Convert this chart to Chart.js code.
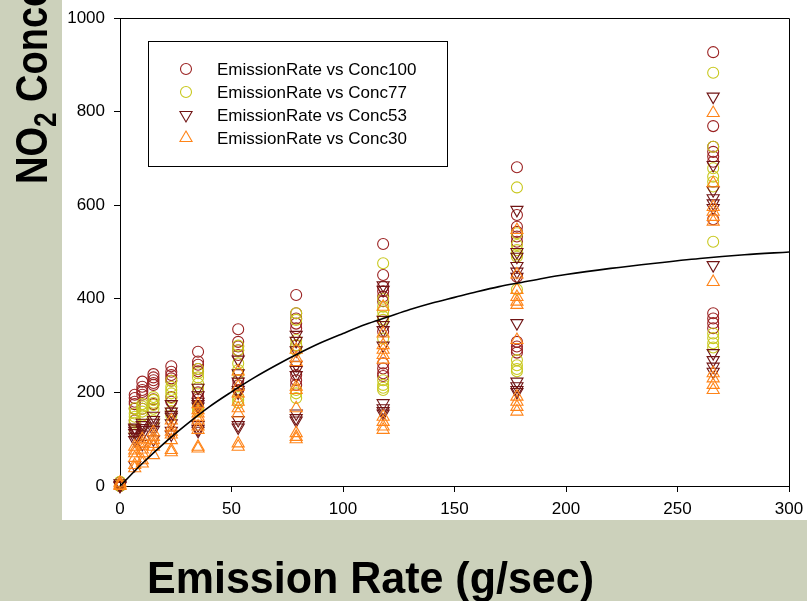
<!DOCTYPE html>
<html>
<head>
<meta charset="utf-8">
<script src="https://cdn.jsdelivr.net/npm/chart.js@4.4.1/dist/chart.umd.min.js"></script>
<style>
html, body { margin: 0; padding: 0; background: #ccd1bb; }
#wrap { position: relative; width: 807px; height: 601px; }
</style>
</head>
<body>
<div id="wrap"><canvas id="myChart" width="807" height="601"></canvas></div>
<script>
// x 값 (배출량, g/sec)
var emissionRates = [0, 6.6, 10, 15, 23, 35, 53, 79, 118, 178, 266];

// 각 배출량별 농도값
var conc100 = [
    [0, 3, 8],
    [195, 188, 180, 175, 165, 140],
    [223, 212, 205, 201, 195, 165],
    [239, 232, 226, 220, 216, 185, 175],
    [256, 244, 237, 230, 225, 190, 180],
    [287, 266, 259, 250, 245, 200, 190, 185],
    [335, 308, 298, 290, 280, 226, 215, 205],
    [408, 369, 358, 347, 337, 300, 237, 226, 216],
    [517, 451, 426, 416, 405, 395, 330, 262, 251, 241, 235],
    [681, 579, 554, 543, 533, 522, 447, 308, 298, 291, 285],
    [927, 769, 725, 714, 704, 693, 570, 369, 358, 348, 337]
];
var conc77 = [
    [0, 4, 9],
    [166, 155, 148, 141, 135, 115],
    [175, 170, 165, 159, 150, 130],
    [190, 184, 178, 173, 165, 140],
    [225, 212, 205, 198, 188, 160, 150],
    [250, 241, 232, 219, 210, 170, 165, 160],
    [300, 290, 262, 248, 240, 190, 184, 178],
    [369, 355, 312, 301, 290, 205, 198, 188],
    [476, 400, 383, 373, 362, 355, 315, 226, 216, 210, 205],
    [638, 540, 515, 504, 495, 490, 420, 269, 258, 250, 245],
    [883, 725, 679, 661, 650, 640, 522, 326, 316, 305, 296]
];
var conc53 = [
    [0, 2, 6],
    [125, 123, 118, 113, 105, 98, 45],
    [135, 130, 124, 120, 110, 90],
    [150, 141, 135, 127, 120, 100],
    [175, 159, 152, 148, 134, 118, 110],
    [210, 194, 180, 175, 170, 130, 122, 118],
    [270, 241, 223, 205, 200, 141, 130, 125],
    [323, 310, 290, 259, 248, 237, 155, 145, 140],
    [429, 419, 355, 344, 333, 300, 177, 166, 160, 155],
    [590, 500, 490, 470, 458, 447, 348, 223, 213, 205, 201],
    [832, 686, 632, 615, 604, 594, 472, 284, 269, 255, 244]
];
var conc30 = [
    [0, 3, 7],
    [84, 76, 70, 60, 45, 38],
    [100, 91, 85, 78, 70, 55, 48],
    [115, 105, 98, 90, 84, 66],
    [140, 125, 116, 110, 98, 77, 72],
    [175, 162, 155, 148, 140, 127, 120, 84, 80],
    [245, 212, 198, 180, 166, 155, 91, 84],
    [291, 273, 265, 212, 205, 166, 113, 105, 100],
    [383, 326, 301, 291, 280, 270, 148, 137, 127, 120],
    [547, 452, 419, 404, 394, 387, 312, 191, 180, 169, 159],
    [797, 647, 596, 586, 575, 565, 436, 241, 230, 216, 205]
];

// 회귀곡선
var fitX = [0, 10, 20, 30, 40, 50, 60, 70, 80, 90, 100, 110, 120, 130, 140, 150, 160, 170, 180, 190, 200, 220, 240, 260, 280, 300];
var fitY = [0, 48, 92, 132, 169, 201, 231, 258, 283, 306, 326, 345, 361, 377, 391, 403, 415, 426, 435, 444, 452, 465, 476, 486, 494, 500];

var seriesLabels = ['EmissionRate vs Conc100', 'EmissionRate vs Conc77', 'EmissionRate vs Conc53', 'EmissionRate vs Conc30'];
var seriesColors = ['#9b2222', '#c8c81e', '#701414', '#ff8418'];
var seriesStyles = ['circle', 'circle', 'triangle', 'triangle'];
var seriesRotation = [0, 0, 180, 0];
var seriesRadius = [5.5, 5.5, 7, 7];

var FONT = '"Liberation Sans", Arial, sans-serif';

function toPoints(values) {
    var pts = [];
    values.forEach(function (col, i) {
        col.forEach(function (v) { pts.push({ x: emissionRates[i], y: v }); });
    });
    return pts;
}

function makeSet(i, values, order) {
    return {
        label: seriesLabels[i],
        data: toPoints(values),
        pointStyle: seriesStyles[i],
        pointRotation: seriesRotation[i],
        pointRadius: seriesRadius[i],
        pointBorderWidth: 1.1,
        borderColor: seriesColors[i],
        pointBorderColor: seriesColors[i],
        backgroundColor: 'rgba(0,0,0,0)',
        pointBackgroundColor: 'rgba(0,0,0,0)',
        showLine: false,
        clip: false,
        order: order
    };
}

// 배경, 테두리, 범례, 축 제목
var decoPlugin = {
    id: 'deco',
    beforeDraw: function (chart) {
        var c = chart.ctx;
        c.save();
        c.fillStyle = '#ffffff';
        c.fillRect(62, 0, 745, 520);
        c.restore();
    },
    afterDraw: function (chart) {
        var c = chart.ctx;
        var a = chart.chartArea;
        c.save();
        // 위, 오른쪽 테두리
        c.strokeStyle = '#000';
        c.lineWidth = 1;
        c.beginPath();
        c.moveTo(Math.round(a.left) + 0.5, Math.round(a.top) + 0.5);
        c.lineTo(Math.round(a.right) + 0.5, Math.round(a.top) + 0.5);
        c.lineTo(Math.round(a.right) + 0.5, Math.round(a.bottom) + 0.5);
        c.stroke();

        // 범례
        c.fillStyle = '#fff';
        c.fillRect(148, 41, 299, 125);
        c.strokeRect(148.5, 41.5, 299, 125);
        var rows = [69, 92, 115, 138];
        for (var i = 0; i < 4; i++) {
            c.strokeStyle = seriesColors[i];
            c.fillStyle = 'rgba(0,0,0,0)';
            c.lineWidth = 1.1;
            Chart.helpers.drawPoint(c, {
                pointStyle: seriesStyles[i],
                rotation: seriesRotation[i],
                radius: seriesRadius[i],
                borderWidth: 1.1
            }, 186, rows[i]);
            c.fillStyle = '#000';
            c.font = '17px ' + FONT;
            c.textAlign = 'left';
            c.textBaseline = 'middle';
            c.fillText(seriesLabels[i], 217, rows[i] + 1);
        }

        // x축 제목
        c.save();
        c.fillStyle = '#000';
        c.font = 'bold 45px ' + FONT;
        c.textAlign = 'left';
        c.textBaseline = 'alphabetic';
        var title = 'Emission Rate (g/sec)';
        var tw = c.measureText(title).width;
        c.translate(147, 593);
        c.scale(447 / tw, 1);
        c.fillText(title, 0, 0);
        c.restore();

        // y축 제목 (회전)
        c.fillStyle = '#000';
        c.translate(47, 184);
        c.rotate(-Math.PI / 2);
        c.scale(1, 1.18);
        c.textAlign = 'left';
        c.textBaseline = 'alphabetic';
        c.font = 'bold 38px ' + FONT;
        c.fillText('NO', 0, 0);
        var w1 = c.measureText('NO').width;
        c.font = 'bold 26px ' + FONT;
        c.fillText('2', w1, 8);
        var w2 = c.measureText('2').width;
        c.font = 'bold 38px ' + FONT;
        c.fillText(' Concentration', w1 + w2, 0);
        c.restore();
    }
};

var datasets = [
    {
        type: 'line',
        label: 'fit',
        data: fitX.map(function (x, i) { return { x: x, y: fitY[i] }; }),
        borderColor: '#000',
        borderWidth: 1.6,
        pointRadius: 0,
        fill: false,
        cubicInterpolationMode: 'monotone',
        clip: false,
        order: 0
    },
    makeSet(3, conc30, 1),
    makeSet(2, conc53, 2),
    makeSet(1, conc77, 3),
    makeSet(0, conc100, 4)
];

var chartArea = document.getElementById('myChart').getContext('2d');
var myChart = new Chart(chartArea, {
    type: 'scatter',
    data: { datasets: datasets },
    options: {
        responsive: false,
        animation: false,
        events: [],
        layout: { padding: { left: 0, top: 18, right: 18, bottom: 0 } },
        plugins: { legend: { display: false }, tooltip: { enabled: false } },
        scales: {
            x: {
                type: 'linear',
                min: 0,
                max: 300,
                ticks: { stepSize: 50, color: '#000', font: { family: FONT, size: 17 }, padding: 7,
                    callback: function (v) { return String(v); } },
                grid: { drawOnChartArea: false, drawTicks: true, tickLength: 6, tickColor: '#000' },
                border: { display: true, color: '#000', width: 1 },
                afterFit: function (s) {
                    s.height = 115;
                    s.paddingLeft = 0;
                    s.paddingRight = 0;
                }
            },
            y: {
                min: 0,
                max: 1000,
                ticks: { stepSize: 200, color: '#000', font: { family: FONT, size: 17 }, padding: 9,
                    callback: function (v) { return String(v); } },
                grid: { drawOnChartArea: false, drawTicks: true, tickLength: 6, tickColor: '#000' },
                border: { display: true, color: '#000', width: 1 },
                afterFit: function (s) {
                    s.width = 120;
                    s.paddingTop = 0;
                    s.paddingBottom = 0;
                }
            }
        }
    },
    plugins: [decoPlugin]
});
</script>
</body>
</html>
